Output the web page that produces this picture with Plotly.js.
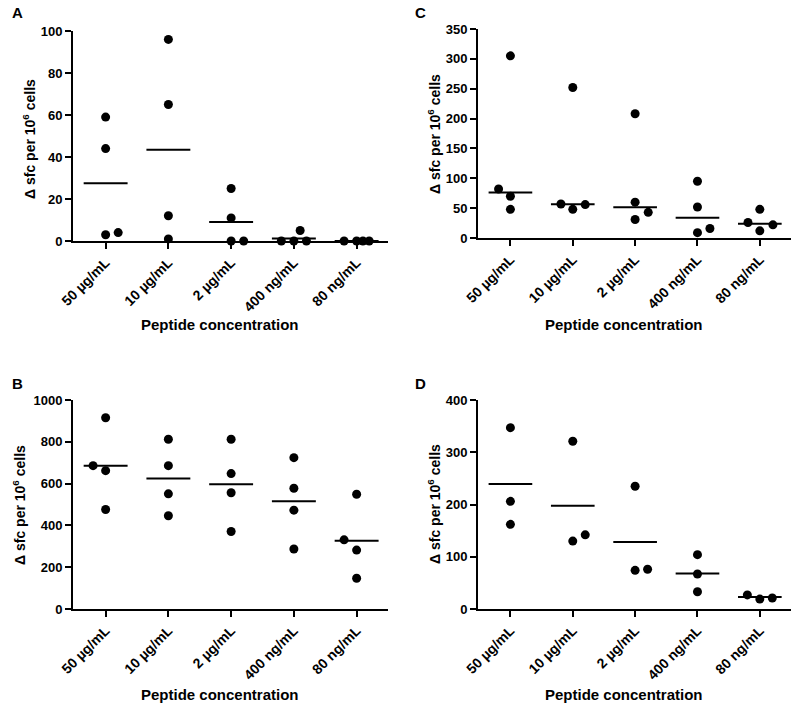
<!DOCTYPE html>
<html><head><meta charset="utf-8">
<script src="https://cdn.plot.ly/plotly-3.0.1.min.js"></script>
<style>body{margin:0;background:#fff}</style>
</head><body><div id="chart" style="width:800px;height:709px"></div>
<script>
const categories = ["50 µg/mL", "10 µg/mL", "2 µg/mL", "400 ng/mL", "80 ng/mL"];
const yTitle = "Δ sfc per 10<sup>6</sup> cells";
const xTitle = "Peptide concentration";

// Panel A
const aValues = [[59, 44, 3, 4], [96, 65, 12, 1], [25, 11, 0, 0], [0, 0, 0, 5], [0, 0, 0, 0]];
const aJitter = [[0, 0, 0, 0.2], [0, 0, 0, 0], [0, 0, 0, 0.2], [-0.2, 0, 0.2, 0.1], [-0.2, 0, 0.1, 0.2]];
const aLine = [27.5, 43.5, 9, 1.25, 0];
const aTicks = [0, 20, 40, 60, 80, 100];

// Panel C
const cValues = [[305, 82, 70, 48], [252, 57, 48, 56], [208, 60, 43, 31], [95, 52, 16, 9], [48, 26, 22, 12]];
const cJitter = [[0, -0.19, 0, 0], [0, -0.19, 0, 0.2], [0, 0, 0.21, 0], [0, 0, 0.2, 0], [0, -0.19, 0.21, 0]];
const cLine = [76, 56.5, 51.5, 34, 24];
const cTicks = [0, 50, 100, 150, 200, 250, 300, 350];

// Panel B
const bValues = [[915, 686, 662, 476], [812, 686, 551, 446], [812, 648, 556, 371], [724, 578, 473, 287], [549, 331, 282, 147]];
const bJitter = [[0, -0.2, 0, 0], [0, 0, 0, 0], [0, 0, 0, 0], [0, 0, 0, 0], [0, -0.2, 0, 0]];
const bLine = [685, 624, 597, 516, 327];
const bTicks = [0, 200, 400, 600, 800, 1000];

// Panel D
const dValues = [[347, 206, 162], [321, 142, 130], [235, 76, 74], [104, 67, 33], [27, 19, 21]];
const dJitter = [[0, 0, 0], [0, 0.2, 0], [0, 0.2, 0], [0, 0, 0], [-0.2, 0, 0.2]];
const dLine = [239, 197.7, 128, 68, 23];
const dTicks = [0, 100, 200, 300, 400];

const FONT = "Liberation Sans, Arial, sans-serif";
const W = 800, H = 709;

function panelTraces(values, jitter, line, xa, ya) {
  const xs = [], ys = [];
  values.forEach((grp, i) => grp.forEach((v, j) => { xs.push(i + jitter[i][j]); ys.push(v); }));
  const lx = [], ly = [];
  line.forEach((v, i) => { lx.push(i - 0.35, i + 0.35, null); ly.push(v, v, null); });
  return [
    {type: "scatter", mode: "lines", x: lx, y: ly, xaxis: xa, yaxis: ya,
     line: {color: "black", width: 2}, cliponaxis: false, hoverinfo: "skip", showlegend: false},
    {type: "scatter", mode: "markers", x: xs, y: ys, xaxis: xa, yaxis: ya,
     marker: {color: "black", size: 9}, cliponaxis: false, showlegend: false}
  ];
}

const data = [].concat(
  panelTraces(aValues, aJitter, aLine, "x", "y"),
  panelTraces(cValues, cJitter, cLine, "x2", "y2"),
  panelTraces(bValues, bJitter, bLine, "x3", "y3"),
  panelTraces(dValues, dJitter, dLine, "x4", "y4")
);

function xAxis(dom, anchor) {
  return {domain: dom, anchor: anchor, range: [-0.52, 4.5], tickmode: "array",
    tickvals: categories.map((c, i) => i), ticktext: categories, tickangle: -45,
    showline: true, linecolor: "black", linewidth: 2, ticks: "outside", ticklen: 6,
    tickwidth: 2, tickcolor: "black", showgrid: false, zeroline: false,
    tickfont: {family: FONT, size: 14, color: "black", weight: "bold"}};
}
function yAxis(dom, anchor, ticks) {
  return {domain: dom, anchor: anchor, range: [ticks[0], ticks[ticks.length - 1]],
    tickmode: "array", tickvals: ticks,
    showline: true, linecolor: "black", linewidth: 2, ticks: "outside", ticklen: 6,
    tickwidth: 2, tickcolor: "black", showgrid: false, zeroline: false,
    tickfont: {family: FONT, size: 13, color: "black", weight: "bold"}};
}

const xL = [73 / W, 388 / W], xR = [478 / W, 791 / W];
const yTopL = [1 - 241 / H, 1 - 31 / H], yTopR = [1 - 238 / H, 1 - 29 / H];
const yBot = [1 - 609 / H, 1 - 400 / H];

function ann(text, px, py, size, rot) {
  return {text: text, x: px / W, y: 1 - py / H, xref: "paper", yref: "paper",
    showarrow: false, textangle: rot || 0, xanchor: "center", yanchor: "middle",
    font: {family: FONT, size: size, color: "black", weight: "bold"}};
}

const layout = {
  width: W, height: H, margin: {l: 0, r: 0, t: 0, b: 0},
  paper_bgcolor: "white", plot_bgcolor: "white", showlegend: false,
  xaxis: xAxis(xL, "y"), yaxis: yAxis(yTopL, "x", aTicks),
  xaxis2: xAxis(xR, "y2"), yaxis2: yAxis(yTopR, "x2", cTicks),
  xaxis3: xAxis(xL, "y3"), yaxis3: yAxis(yBot, "x3", bTicks),
  xaxis4: xAxis(xR, "y4"), yaxis4: yAxis(yBot, "x4", dTicks),
  annotations: [
    ann("A", 17, 13, 15), ann("C", 420, 13, 15), ann("B", 17, 383, 15), ann("D", 420, 383, 15),
    ann(yTitle, 29, 139, 14, -90), ann(yTitle, 434, 134, 14, -90),
    ann(yTitle, 19, 505, 14, -90), ann(yTitle, 434, 504, 14, -90),
    ann(xTitle, 220, 325, 15), ann(xTitle, 624, 325, 15),
    ann(xTitle, 220, 694, 15), ann(xTitle, 624, 694, 15)
  ]
};

Plotly.newPlot("chart", data, layout, {displayModeBar: false, staticPlot: true});
</script>
</body></html>
